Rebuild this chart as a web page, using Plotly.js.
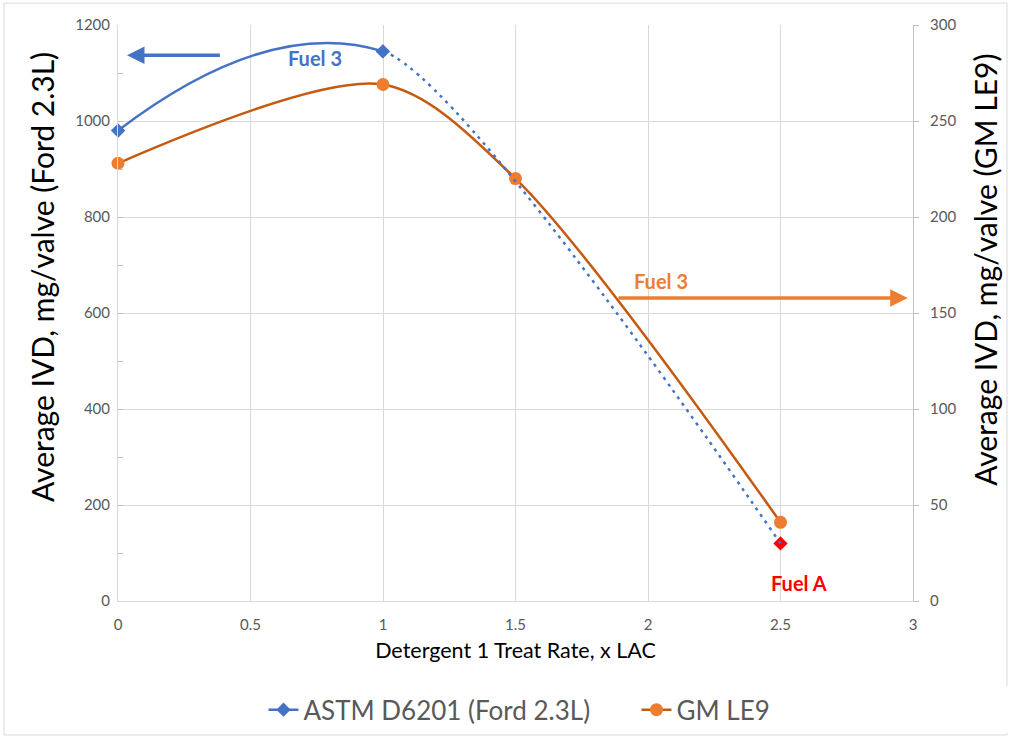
<!DOCTYPE html>
<html><head><meta charset="utf-8">
<script src="https://cdn.plot.ly/plotly-3.0.1.min.js"></script>
<style>body{margin:0;background:#fff}#c{width:1010px;height:738px}</style>
</head><body><div id="c"></div>
<script>
// Data
const treatRate = [0, 1, 2.5];
const fordIVD = [980, 1145, 120];          // left axis, mg/valve
const fordColors = ['#4472c4', '#4472c4', '#ff0000'];
const gmRate = [0, 1, 1.5, 2.5];
const gmIVD = [228, 269, 220, 41];          // right axis, mg/valve
const fordName = 'ASTM D6201 (Ford 2.3L)';
const gmName = 'GM LE9';
const xTitle = 'Detergent 1 Treat Rate, x LAC';
const yLeftTitle = 'Average IVD, mg/valve (Ford 2.3L)';
const yRightTitle = 'Average IVD, mg/valve (GM LE9)';

const FONT = 'Lato, "Open Sans", sans-serif';
const GRID = '#d9d9d9';
const TICKC = '#595959';
const BLUE = '#4472c4';

const traces = [
  { // Ford markers
    x: treatRate, y: fordIVD, xaxis: 'x', yaxis: 'y',
    mode: 'markers', marker: {symbol: 'diamond', size: 11, color: fordColors},
    cliponaxis: false, showlegend: false, name: fordName
  },
  { // Ford series, dotted part (clipped to x >= 1 by a sub-axis)
    x: treatRate, y: fordIVD, xaxis: 'x3', yaxis: 'y4',
    mode: 'lines', line: {color: BLUE, width: 2.5, shape: 'spline', smoothing: 0.55, dash: '3px,5px'},
    showlegend: false, name: fordName
  },
  { // GM series on right axis
    x: gmRate, y: gmIVD, xaxis: 'x', yaxis: 'y2',
    mode: 'lines+markers', line: {color: '#c55a11', width: 2.5, shape: 'spline', smoothing: 0.85},
    marker: {symbol: 'circle', size: 13, color: '#ed7d31'},
    cliponaxis: false, name: gmName, legendrank: 2
  },
  { // Ford series, solid part (clipped to x <= 1 by a sub-axis)
    x: treatRate, y: fordIVD, xaxis: 'x2', yaxis: 'y3',
    mode: 'lines+markers', line: {color: BLUE, width: 2.5, shape: 'spline', smoothing: 1.3},
    marker: {symbol: 'diamond', size: 11, color: fordColors},
    cliponaxis: true, name: fordName, legendrank: 1
  }
];

const layout = {
  width: 1010, height: 738,
  margin: {l: 118, r: 97, t: 25, b: 137, autoexpand: false},
  paper_bgcolor: '#fff', plot_bgcolor: 'rgba(0,0,0,0)',
  font: {family: FONT, color: TICKC},
  showlegend: true,
  legend: {orientation: 'h', x: 0.183, xanchor: 'left', y: -0.148, yanchor: 'top',
           entrywidth: 328, entrywidthmode: 'pixels',
           font: {size: 26, color: TICKC, family: FONT}, itemwidth: 30, tracegroupgap: 0},
  xaxis: {
    domain: [0, 1], range: [0, 3], dtick: 0.5, tick0: 0,
    showgrid: true, gridcolor: GRID, gridwidth: 1,
    showline: true, linecolor: GRID, linewidth: 1, zeroline: false,
    ticks: '', tickfont: {size: 15, color: TICKC}, ticklabelstandoff: 10,
    title: {text: xTitle, font: {size: 21.5, color: '#000'}, standoff: 10}
  },
  yaxis: {
    range: [0, 1200], dtick: 200, showgrid: true, gridcolor: GRID, gridwidth: 1,
    showline: true, linecolor: GRID, zeroline: false,
    ticks: 'inside', ticklen: 5, tickcolor: '#bfbfbf',
    minor: {dtick: 100, ticks: 'inside', ticklen: 5, tickcolor: '#bfbfbf', showgrid: false},
    tickfont: {size: 15, color: TICKC}, ticklabelstandoff: 4
  },
  yaxis2: {
    overlaying: 'y', side: 'right', range: [0, 300], dtick: 50,
    showgrid: false, showline: true, linecolor: '#bfbfbf', zeroline: false,
    ticks: 'outside', ticklen: 5, tickcolor: '#bfbfbf',
    tickfont: {size: 15, color: TICKC}, ticklabelstandoff: 8
  },
  xaxis2: {domain: [0, 1/3], range: [0, 1], anchor: 'y3', visible: false, fixedrange: true},
  yaxis3: {domain: [0, 1], range: [0, 1200], anchor: 'x2', visible: false, fixedrange: true},
  xaxis3: {domain: [1/3, 1], range: [1, 3], anchor: 'y4', visible: false, fixedrange: true},
  yaxis4: {domain: [0, 1], range: [0, 1200], anchor: 'x3', visible: false, fixedrange: true},
  annotations: [
    {x: 0.034, y: 1137, ax: 0.39, ay: 1137, xref: 'x', yref: 'y', axref: 'x', ayref: 'y',
     showarrow: true, arrowhead: 2, arrowsize: 1, arrowwidth: 3.5, arrowcolor: BLUE, text: ''},
    {x: 2.98, y: 157.8, ax: 1.883, ay: 157.8, xref: 'x', yref: 'y2', axref: 'x', ayref: 'y2',
     showarrow: true, arrowhead: 2, arrowsize: 1, arrowwidth: 3.5, arrowcolor: '#ed7d31', text: ''},
    {x: 0.743, y: 1131, xref: 'x', yref: 'y', showarrow: false, text: '<b>Fuel 3</b>',
     font: {size: 20, color: BLUE, family: FONT}},
    {x: 2.05, y: 666, xref: 'x', yref: 'y', showarrow: false, text: '<b>Fuel 3</b>',
     font: {size: 20, color: '#ed7d31', family: FONT}},
    {x: 2.57, y: 37, xref: 'x', yref: 'y', showarrow: false, text: '<b>Fuel A</b>',
     font: {size: 20, color: '#ff0000', family: FONT}},
    {x: -0.0956, y: 0.5625, xref: 'paper', yref: 'paper', xanchor: 'center', yanchor: 'middle',
     showarrow: false, textangle: -90,
     text: yLeftTitle, font: {size: 30, color: '#000', family: FONT}},
    {x: 1.0906, y: 0.575, xref: 'paper', yref: 'paper', xanchor: 'center', yanchor: 'middle',
     showarrow: false, textangle: -90,
     text: yRightTitle, font: {size: 30, color: '#000', family: FONT}}
  ],
  shapes: [
    {type: 'rect', xref: 'paper', yref: 'paper', x0: -0.1434, x1: 1.1182, y0: -0.2326, y1: 1.038,
     line: {color: '#d9d9d9', width: 1}, fillcolor: 'rgba(0,0,0,0)', layer: 'below'}
  ]
};

Plotly.newPlot('c', traces, layout, {displayModeBar: false, staticPlot: true});
</script></body></html>
